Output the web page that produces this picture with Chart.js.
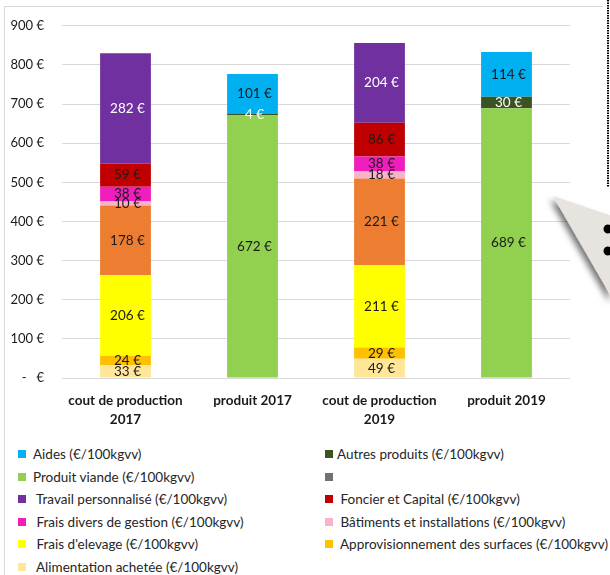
<!DOCTYPE html>
<html>
<head>
<meta charset="utf-8">
<script src="https://cdn.jsdelivr.net/npm/chart.js@4"></script>
<style>
  body { margin: 0; background: #fff; }
  #wrap { position: relative; width: 610px; height: 575px; overflow: hidden; font-family: Lato, sans-serif; }
  #graph { position: absolute; left: 0; top: 0; }
  #deco { position: absolute; left: 0; top: 0; }
  #legend { position: absolute; left: 0; top: 443px; width: 610px; }
  .item { position: absolute; height: 22px; line-height: 22px; font-size: 13.5px; color: #262626; white-space: pre; }
  .item span.box { position: absolute; top: 7px; width: 8px; height: 8px; }
</style>
</head>
<body>
<div id="wrap">
  <canvas id="graph" width="610" height="440"></canvas>
  <div id="legend"></div>
  <svg id="deco" width="610" height="575">
    <defs>
      <filter id="shadow" x="-50%" y="-50%" width="200%" height="200%">
        <feDropShadow dx="-3" dy="4" stdDeviation="3" flood-color="#000" flood-opacity="0.55"/>
      </filter>
    </defs>
    <line x1="4" y1="6.5" x2="603" y2="6.5" stroke="#d9d9d9" stroke-width="1"/>
    <line x1="4.5" y1="6" x2="4.5" y2="575" stroke="#d9d9d9" stroke-width="1"/>
    <line x1="608" y1="0" x2="608" y2="187" stroke="#000" stroke-width="2" stroke-dasharray="1.5 1"/>
    <polygon points="553,196 612,216 612,298" fill="#e7e3de" filter="url(#shadow)"/>
    <circle cx="608" cy="229" r="4.5" fill="#000"/>
    <circle cx="608" cy="251" r="4.5" fill="#000"/>
  </svg>
</div>
<script>
const categories = [['cout de production', '2017'], 'produit 2017', ['cout de production', '2019'], 'produit 2019'];

// cost components (bottom to top of the stack)
const alimentation = [33, null, 49, null];
const approSurfaces = [24, null, 29, null];
const fraisElevage = [206, null, 211, null];
const mecanisation = [178, null, 221, null];
const batiments = [10, null, 18, null];
const fraisDivers = [38, null, 38, null];
const foncier = [59, null, 86, null];
const travail = [282, null, 204, null];
const sansNom = [null, null, null, null];
// product side
const produitViande = [null, 672, null, 689];
const autresProduits = [null, 4, null, 30];
const aides = [null, 101, null, 114];

const yTicks = [0, 100, 200, 300, 400, 500, 600, 700, 800, 900];

const series = [
    { label: 'Alimentation achetée (€/100kgvv)', data: alimentation, color: '#ffe699', text: '#1a1a1a', pad: ' ' },
    { label: 'Approvisionnement des surfaces (€/100kgvv)', data: approSurfaces, color: '#ffc000', text: '#1a1a1a', pad: ' ' },
    { label: "Frais d'elevage (€/100kgvv)", data: fraisElevage, color: '#ffff00', text: '#1a1a1a', pad: ' ' },
    { label: 'Mécanisation (€/100kgvv)', data: mecanisation, color: '#ed7d31', text: '#1a1a1a', pad: ' ' },
    { label: 'Bâtiments et installations (€/100kgvv)', data: batiments, color: '#f8b3cb', text: '#1a1a1a', pad: ' ' },
    { label: 'Frais divers de gestion (€/100kgvv)', data: fraisDivers, color: '#f01ebd', text: '#1a1a1a', pad: ' ' },
    { label: 'Foncier et Capital (€/100kgvv)', data: foncier, color: '#c00000', text: '#1a1a1a', pad: ' ' },
    { label: 'Travail personnalisé (€/100kgvv)', data: travail, color: '#7030a0', text: '#ffffff', pad: ' ' },
    { label: '', data: sansNom, color: '#767171', text: '#1a1a1a', pad: '' },
    { label: 'Produit viande (€/100kgvv)', data: produitViande, color: '#92d050', text: '#1a1a1a', pad: '' },
    { label: 'Autres produits (€/100kgvv)', data: autresProduits, color: '#3b5323', text: '#ffffff', pad: '' },
    { label: 'Aides (€/100kgvv)', data: aides, color: '#00b0f0', text: '#1a1a1a', pad: '' }
];

// legend rows as shown (the orange entry is cut off at the bottom of the picture)
const legendOrder = [11, 10, 9, 8, 7, 6, 5, 4, 2, 1, 0];

const valueLabels = {
    id: 'valueLabels',
    afterDatasetsDraw(chart) {
        const ctx = chart.ctx;
        ctx.save();
        ctx.font = '13.5px Lato, sans-serif';
        ctx.textAlign = 'center';
        ctx.textBaseline = 'middle';
        chart.data.datasets.forEach((ds, i) => {
            chart.getDatasetMeta(i).data.forEach((bar, j) => {
                const v = ds.data[j];
                if (v === null || v === undefined) return;
                ctx.fillStyle = series[i].text;
                ctx.fillText(v + ' €', bar.x + 2, (bar.y + bar.base) / 2);
            });
        });
        ctx.restore();
    }
};

const graph = document.getElementById('graph').getContext('2d');

new Chart(graph, {
    type: 'bar',
    data: {
        labels: categories,
        datasets: series.map(s => ({
            label: s.label,
            data: s.data,
            backgroundColor: s.color,
            borderWidth: 0,
            categoryPercentage: 1,
            barPercentage: 0.4
        }))
    },
    options: {
        responsive: false,
        animation: false,
        layout: { padding: { left: 0, right: 40, top: 19, bottom: 0 } },
        plugins: {
            legend: { display: false },
            tooltip: { enabled: false }
        },
        scales: {
            x: {
                stacked: true,
                grid: { display: false },
                border: { display: false },
                ticks: {
                    color: '#1a1a1a',
                    padding: 5,
                    maxRotation: 0,
                    font: { family: 'Lato, sans-serif', size: 13.5, weight: 'bold', lineHeight: 1.4 }
                },
                afterFit: scale => { scale.height = 62; }
            },
            y: {
                stacked: true,
                min: 0,
                max: 900,
                afterBuildTicks: scale => { scale.ticks = yTicks.map(v => ({ value: v })); },
                grid: { color: '#d9d9d9', drawTicks: false },
                border: { display: false },
                ticks: {
                    color: '#1a1a1a',
                    padding: 18,
                    font: { family: 'Lato, sans-serif', size: 13 },
                    callback: v => v === 0 ? '-   €' : v + ' €'
                },
                afterFit: scale => { scale.width = 62; }
            }
        }
    },
    plugins: [valueLabels]
});

// legend in two columns, as in the source sheet
const legend = document.getElementById('legend');
legendOrder.forEach((idx, n) => {
    const s = series[idx];
    const col = n % 2, row = Math.floor(n / 2);
    const item = document.createElement('div');
    item.className = 'item';
    item.style.left = (col === 0 ? 18 : 325) + 'px';
    item.style.top = (row * 22.6) + 'px';
    item.innerHTML = '<span class="box" style="left:0;background:' + s.color + '"></span>';
    const txt = document.createElement('span');
    txt.style.marginLeft = (col === 0 ? 15 : 12) + 'px';
    txt.textContent = s.pad + s.label;
    item.appendChild(txt);
    legend.appendChild(item);
});
</script>
</body>
</html>
